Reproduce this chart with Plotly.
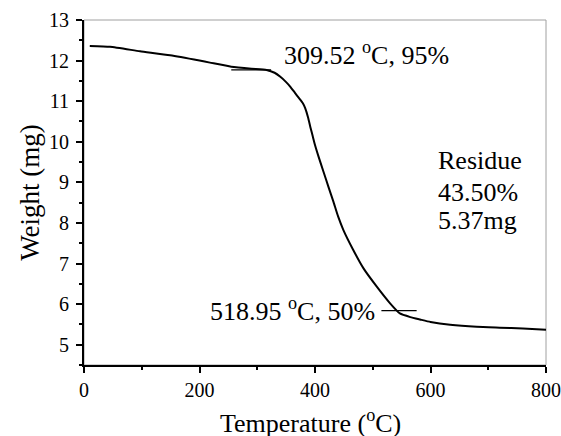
import plotly.graph_objects as go

# TGA curve (temperature in °C, weight in mg)
temperature = [10, 45, 97, 149, 200, 218, 255, 290, 316, 330, 340, 350, 357, 365, 372,
               379, 383, 388, 392, 396, 400, 406, 415, 423, 432, 440, 449, 466,
               484, 507, 530, 547, 565, 582, 600, 634, 680, 720, 760, 800]
weight = [12.36, 12.34, 12.23, 12.13, 12.00, 11.95, 11.85, 11.80, 11.77, 11.70, 11.60,
          11.47, 11.36, 11.21, 11.08, 10.95, 10.83, 10.60, 10.36, 10.14, 9.92,
          9.64, 9.25, 8.90, 8.52, 8.16, 7.83, 7.34, 6.88, 6.43, 6.02, 5.77, 5.68, 5.62,
          5.56, 5.49, 5.44, 5.42, 5.40, 5.37]

# marker segments
mark95_x = [255, 324]
mark95_y = [11.77, 11.77]
mark50_x = [515, 576]
mark50_y = [5.84, 5.84]

# annotation texts and anchor values
label95 = "309.52 <sup>o</sup>C, 95%"
label95_pos = (342, 12.18)
label50 = "518.95 <sup>o</sup>C, 50%"
label50_pos = (507, 5.87)
residue_lines = ["Residue", "43.50%", "5.37mg"]
residue_x = 610
residue_y = [9.54, 8.76, 8.06]

x_title = "Temperature (<sup>o</sup>C)"
y_title = "Weight (mg)"

x_range = [0, 800]
y_range = [4.5, 13]

FONT = "Liberation Serif"
ANN = 26

fig = go.Figure()
fig.add_trace(go.Scatter(x=temperature, y=weight, mode="lines",
                         line=dict(color="black", width=2, shape="spline", smoothing=0.5),
                         showlegend=False, hoverinfo="skip"))
fig.add_trace(go.Scatter(x=mark95_x, y=mark95_y, mode="lines",
                         line=dict(color="black", width=1.3), showlegend=False))
fig.add_trace(go.Scatter(x=mark50_x, y=mark50_y, mode="lines",
                         line=dict(color="black", width=1.3), showlegend=False))

fig.add_annotation(x=label95_pos[0], y=label95_pos[1], text=label95, showarrow=False,
                   xanchor="left", yanchor="middle", font=dict(family=FONT, size=ANN, color="black"))
fig.add_annotation(x=label50_pos[0], y=label50_pos[1], text=label50, showarrow=False,
                   xanchor="right", yanchor="middle", font=dict(family=FONT, size=ANN, color="black"))
for txt, yv in zip(residue_lines, residue_y):
    fig.add_annotation(x=residue_x, y=yv, text=txt, showarrow=False,
                       xanchor="left", yanchor="middle",
                       font=dict(family=FONT, size=ANN, color="black"))

# x axis title placed as a paper annotation for exact vertical position
fig.add_annotation(x=0.49, y=-0.165, xref="paper", yref="paper", text=x_title,
                   showarrow=False, xanchor="center", yanchor="middle",
                   font=dict(family=FONT, size=26, color="black"))

# gray frame (top/right)
fig.add_shape(type="rect", xref="paper", yref="paper", x0=0, x1=1, y0=0, y1=1,
              line=dict(color="#a0a0a0", width=1), layer="below")

fig.update_xaxes(range=x_range, dtick=200, tick0=0, showgrid=False, zeroline=False,
                 showline=True, linecolor="black", linewidth=2, automargin=False,
                 ticks="outside", ticklen=6, tickwidth=1.5, tickcolor="black",
                 ticklabeloverflow="allow",
                 minor=dict(dtick=100, ticks="outside", ticklen=3, tickwidth=1.5, tickcolor="black"),
                 tickfont=dict(family=FONT, size=20, color="black"))
fig.update_yaxes(range=y_range, dtick=1, tick0=0, showgrid=False, zeroline=False,
                 showline=True, linecolor="black", linewidth=2, automargin=False,
                 ticks="outside", ticklen=6, tickwidth=1.5, tickcolor="black",
                 ticklabelstandoff=3,
                 minor=dict(dtick=0.5, ticks="outside", ticklen=3, tickwidth=1.5, tickcolor="black"),
                 tickfont=dict(family=FONT, size=20, color="black"),
                 title=dict(text=y_title, standoff=2,
                            font=dict(family=FONT, size=27, color="black")))

fig.update_layout(width=561, height=436, margin=dict(l=84, r=15, t=20, b=71),
                  plot_bgcolor="white", paper_bgcolor="white", showlegend=False)

fig.write_html("out.html", config={"displayModeBar": False},
               post_script="document.body.style.margin='0px';document.body.style.overflow='hidden';")
